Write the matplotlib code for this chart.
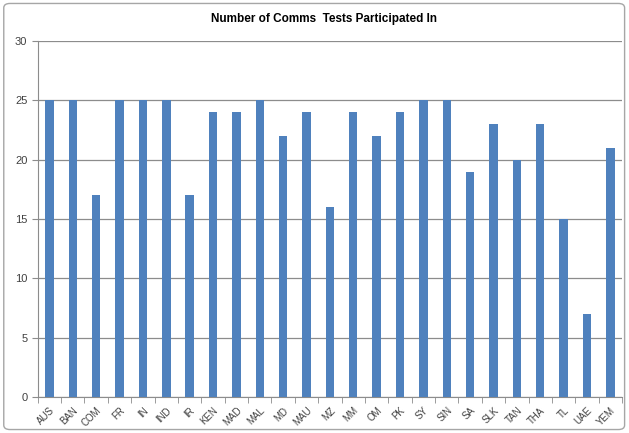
import matplotlib
matplotlib.use("Agg")
import matplotlib.pyplot as plt
from matplotlib.patches import FancyBboxPatch
import numpy as np

countries = ["AUS", "BAN", "COM", "FR", "IN", "IND", "IR", "KEN", "MAD", "MAL",
             "MD", "MAU", "MZ", "MM", "OM", "PK", "SY", "SIN", "SA", "SLK",
             "TAN", "THA", "TL", "UAE", "YEM"]
tests = [25, 25, 17, 25, 25, 25, 17, 24, 24, 25,
         22, 24, 16, 24, 22, 24, 25, 25, 19, 23,
         20, 23, 15, 7, 21]
y_ticks = [0, 5, 10, 15, 20, 25, 30]

plt.rcParams["font.family"] = ["Liberation Sans", "DejaVu Sans"]

fig = plt.figure(figsize=(6.29, 4.33), dpi=100)
ax = fig.add_axes([0.060, 0.083, 0.929, 0.822])

# outer chart border
fig.patches.append(FancyBboxPatch((0.006, 0.008), 0.987, 0.984,
                                  boxstyle="round,pad=0,rounding_size=0.01",
                                  transform=fig.transFigure, fill=False,
                                  edgecolor="#a6a6a6", linewidth=1.0))

x = np.arange(len(countries))
ax.bar(x, tests, width=0.36, color="#4f81bd", zorder=3)

ax.set_xlim(-0.5, len(countries) - 0.5)
ax.set_ylim(0, 30)
ax.set_yticks(y_ticks)
ax.yaxis.grid(True, color="#8c8c8c", linewidth=0.9, zorder=0)

ax.set_xticks(x)
ax.set_xticklabels(countries, rotation=45, ha="right", rotation_mode="anchor",
                   fontsize=7, color="#404040")
ax.tick_params(axis="x", length=0, pad=6)
ax.set_xticks(np.arange(len(countries) + 1) - 0.5, minor=True)
ax.tick_params(axis="x", which="minor", length=4, color="#8c8c8c", direction="out")
ax.tick_params(axis="y", length=4, color="#8c8c8c", labelsize=8, labelcolor="#404040")

for side in ["top", "right"]:
    ax.spines[side].set_visible(False)
ax.spines["left"].set_color("#8c8c8c")
ax.spines["bottom"].set_color("#8c8c8c")

fig.text(0.515, 0.955, "Number of Comms  Tests Participated In", ha="center",
         va="center", fontsize=8.5, fontweight="bold")

fig.savefig("out.png", dpi=100)
